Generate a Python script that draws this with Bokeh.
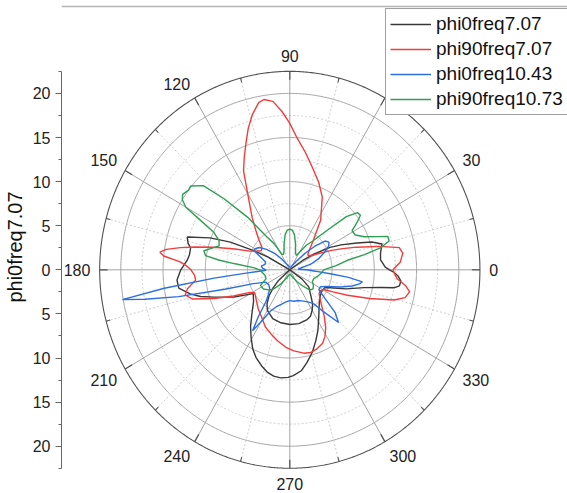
import numpy as np
from bokeh.plotting import figure
from bokeh.models import Range1d, Legend, LegendItem, FixedTicker, CustomJSTickFormatter, Span
from bokeh.embed import file_html
from bokeh.resources import INLINE
from bokeh.core.properties import value

# ---------------- data (angle in degrees, radius) ----------------
series_names = ["phi0freq7.07", "phi90freq7.07", "phi0freq10.43", "phi90freq10.73"]
series_colors = ["#383838", "#f23c3c", "#2c6fe0", "#2e9e52"]

black_theta = [0, 1.5, 6, 10, 15, 18, 21, 25, 28, 32, 35, 38, 42, 46, 50, 55, 60, 70, 80, 90,
               100, 110, 115, 120, 125, 130, 135, 139, 144, 148, 151, 153, 156, 159, 163, 166,
               168, 172, 175, 180, 185, 189, 193, 196, 199, 205, 212, 220, 228, 234, 239, 244,
               248, 253, 257, 261, 265, 269, 272, 277, 281, 286, 291, 296, 303, 310, 316, 321,
               328, 334, 337, 342, 347, 349.5, 350.6, 352, 354.5, 357, 358.7, 360]
black_r = [11.8, 11.3, 10.8, 10.9, 11.3, 10.2, 8.5, 6.7, 5.4, 3.4, 1.8, 0.0, -1.8, -2.8, -3.8,
           -4.7, -5.3, -5.9, -6.1, -6.2, -6.2, -6.0, -5.8, -5.3, -4.7, -3.9, -3.3, -3.0, -1.8,
           0.0, 3.0, 4.8, 7.7, 10.1, 12.7, 12.4, 12.0, 12.0, 12.2, 12.9, 13.4, 13.3, 12.1, 11.0,
           9.5, 7.3, 5.1, 5.6, 6.7, 7.9, 8.9, 10.0, 10.7, 11.4, 11.9, 12.2, 12.3, 12.2, 12.0,
           11.5, 10.7, 9.7, 8.6, 7.6, 6.3, 5.4, 4.9, 4.65, 4.5, 4.6, 5.2, 7.0, 9.0, 11.0, 12.5,
           13.1, 13.2, 12.8, 12.3, 11.8]

red_theta = [0, 3.8, 8, 11, 14, 18, 21, 24, 28, 32, 36, 40, 44, 50, 57, 65, 71, 77, 82, 87, 90,
             93, 96, 99, 101, 104, 107, 110, 113, 116, 121, 127, 132, 137, 142, 147, 152, 156,
             160, 164, 167, 169, 171, 172.6, 174, 176, 178, 180, 183, 186, 190, 193, 196, 200,
             204, 208, 212, 220, 230, 238, 246, 253, 260, 267, 273, 280, 285, 290, 295, 299, 303,
             308, 312, 317, 322, 326, 331, 334, 337, 341, 344.5, 347, 350, 352.6, 355.4, 358, 360]
red_r = [12.2, 13.1, 13.5, 13.2, 11.0, 8.3, 6.7, 5.4, 4.0, 3.1, 2.7, 2.8, 3.2, 4.3, 6.7, 9.1, 10.5,
         11.9, 13.4, 15.1, 16.6, 18.0, 19.2, 19.55, 19.3, 18.2, 16.8, 15.2, 13.8, 12.5, 9.5, 7.4,
         6.0, 5.0, 4.2, 4.0, 4.5, 5.2, 6.9, 9.3, 11.5, 13.2, 14.8, 15.5, 15.0, 13.0, 12.2, 11.7,
         11.3, 11.2, 12.3, 12.7, 12.0, 9.5, 7.3, 5.5, 4.9, 5.2, 5.8, 6.3, 7.1, 7.6, 8.2, 8.8, 9.2,
         9.6, 9.7, 9.5, 9.2, 8.6, 7.8, 6.6, 5.7, 4.9, 4.4, 4.3, 4.6, 5.7, 7.4, 10.0, 12.8, 14.0,
         14.4, 13.8, 12.75, 12.4, 12.2]

blue_theta = [0, 4, 8, 14, 20, 26, 30, 34, 38, 42, 46, 52, 60, 75, 90, 105, 120, 128, 134, 140,
              145, 149, 153, 158, 163, 168, 173, 177, 181, 184, 186, 188, 189.7, 191, 193, 196,
              200, 206, 214, 222, 228, 232, 235, 237.5, 240, 244, 250, 256, 262, 270, 278, 285,
              292, 300, 306, 310, 314, 318, 322, 327, 332, 337, 342, 346, 349, 351, 353, 354.6,
              357, 360]
blue_r = [2.0, 1.0, 1.2, 2.5, 3.6, 4.6, 5.3, 5.6, 5.3, 4.0, 2.6, 1.2, 0.5, 0.3, 0.3, 0.4, 0.8,
          1.6, 2.6, 3.6, 4.4, 4.7, 4.8, 3.6, 3.0, 3.0, 3.4, 3.2, 2.8, 5.0, 9.0, 15.0, 20.1, 17.5,
          13.5, 8.0, 4.6, 3.2, 3.0, 3.2, 3.8, 4.6, 6.5, 8.2, 6.8, 5.2, 4.4, 4.0, 3.7, 3.5, 3.6,
          3.6, 3.8, 4.2, 4.7, 6.2, 8.3, 7.2, 5.3, 4.1, 4.1, 4.8, 6.3, 7.6, 8.4, 8.7, 7.0, 4.8,
          3.0, 2.0]

green_theta = [0, 5, 9, 11, 13, 15.5, 18, 20, 23, 27, 31, 34, 36.5, 39, 42, 45, 48, 50, 55, 60,
               65, 70, 77, 82, 86, 90, 94, 98, 103, 108, 113, 118, 122, 126, 130, 134, 137, 141,
               143, 146, 148, 150, 152, 154.6, 158.4, 162, 165, 168, 170.8, 172.5, 174, 177, 181,
               185, 192, 200, 207, 215, 222, 228, 236, 248, 260, 275, 290, 302, 310, 316, 322,
               328, 333, 340, 348, 355, 360]
green_r = [4.0, 5.5, 6.9, 9.0, 11.0, 12.2, 12.2, 11.0, 9.6, 8.7, 8.6, 9.6, 10.4, 10.3, 9.0, 6.5,
           5.0, 4.3, 3.4, 2.3, 1.8, 2.0, 3.0, 4.0, 4.5, 4.6, 4.5, 4.0, 3.0, 2.2, 1.9, 2.0, 3.5,
           4.6, 7.8, 11.2, 14.0, 15.1, 15.0, 15.3, 15.0, 14.2, 12.0, 10.0, 9.0, 8.8, 9.5, 10.4,
           10.1, 8.5, 6.5, 4.2, 3.4, 3.3, 3.0, 3.0, 3.9, 3.8, 3.4, 3.0, 2.0, 1.0, 0.6, 0.5, 0.8,
           1.6, 2.4, 3.3, 3.5, 3.3, 3.0, 3.0, 3.4, 3.8, 4.0]

angle_ticks = [0, 30, 60, 90, 120, 150, 180, 210, 240, 270, 300, 330]
angle_labels = ["0", "30", "60", "90", "120", "150", "180", "210", "240", "270", "300", "330"]
radial_ticks = [-20, -15, -10, -5, 0, 5, 10, 15, 20]
radial_max = 22.5

# ---------------- geometry of the page ----------------
W, H = 567, 493
CX, CY = 289.3, 269.3      # pole position in pixels
KX, KY = 8.45, 8.82        # pixels per radial unit
LEFT = 61

p = figure(width=W, height=H, output_backend="svg", toolbar_location=None,
           x_range=Range1d((LEFT - CX) / KX, (W - CX) / KX),
           y_range=Range1d(-(H - CY) / KY, CY / KY),
           x_axis_location=None, y_axis_location="left",
           min_border_left=LEFT, min_border_right=0, min_border_top=0, min_border_bottom=0)
p.outline_line_color = None
p.xgrid.visible = False
p.ygrid.visible = False
p.background_fill_color = "white"
p.border_fill_color = "white"

# radial axis on the left
ax = p.yaxis[0]
ax.ticker = FixedTicker(ticks=radial_ticks,
                        minor_ticks=list(np.arange(-22.5, 22.6, 2.5)))
ax.formatter = CustomJSTickFormatter(code="return Math.abs(tick).toString()")
ax.bounds = (-radial_max, radial_max)
ax.axis_label = series_names[0]
ax.axis_label_text_font = "Liberation Sans"
ax.axis_label_text_font_size = "20px"
ax.axis_label_text_font_style = "normal"
ax.axis_label_text_color = "#111111"
ax.axis_label_standoff = 4
ax.major_label_text_font = "Liberation Sans"
ax.major_label_text_font_size = "16px"
ax.major_label_text_color = "#222222"
ax.major_label_standoff = 5
ax.axis_line_color = "#666666"
ax.major_tick_line_color = "#666666"
ax.minor_tick_line_color = "#666666"
ax.major_tick_out = 6
ax.major_tick_in = 0
ax.minor_tick_out = 3
ax.minor_tick_in = 0

# window artifact line at the top
p.add_layout(Span(location=(CY - 6) / KY, dimension="width", line_color="#b4b4b4", line_width=1.5))

# polar grid
t = np.linspace(0, 2 * np.pi, 721)
for rr in [2.5, 7.5, 12.5, 17.5]:
    p.line(rr * np.cos(t), rr * np.sin(t), line_color="#cdcdcd", line_width=1, line_dash="2 2")
for rr in [5, 10, 15, 20]:
    p.line(rr * np.cos(t), rr * np.sin(t), line_color="#a3a3a3", line_width=1)

minor_ang = np.radians(np.arange(15, 360, 30))
major_ang = np.radians(np.arange(0, 360, 30))
p.segment(np.zeros(len(minor_ang)), np.zeros(len(minor_ang)),
          radial_max * np.cos(minor_ang), radial_max * np.sin(minor_ang),
          line_color="#cdcdcd", line_width=1, line_dash="2 2")
p.segment(np.zeros(len(major_ang)), np.zeros(len(major_ang)),
          radial_max * np.cos(major_ang), radial_max * np.sin(major_ang),
          line_color="#a3a3a3", line_width=1)
p.line(radial_max * np.cos(t), radial_max * np.sin(t), line_color="#505050", line_width=1.1)
# ticks on the outer circle
p.segment((radial_max - 0.95) * np.cos(major_ang), (radial_max - 0.95) * np.sin(major_ang),
          radial_max * np.cos(major_ang), radial_max * np.sin(major_ang),
          line_color="#505050", line_width=1.2)
p.segment((radial_max - 0.5) * np.cos(minor_ang), (radial_max - 0.5) * np.sin(minor_ang),
          radial_max * np.cos(minor_ang), radial_max * np.sin(minor_ang),
          line_color="#505050", line_width=1.1)

# angular labels
R_LAB = 23.6
groups = {}
for ang, lab in zip(angle_ticks, angle_labels):
    c, s = np.cos(np.radians(ang)), np.sin(np.radians(ang))
    align = "left" if c > 0.3 else ("right" if c < -0.3 else "center")
    base = "bottom" if s > 0.3 else ("top" if s < -0.3 else "middle")
    groups.setdefault((align, base), []).append((R_LAB * c, R_LAB * s, lab))
for (align, base), items in groups.items():
    p.text([i[0] for i in items], [i[1] for i in items], text=[i[2] for i in items],
           text_align=align, text_baseline=base, text_font=value("Liberation Sans"),
           text_font_size="16px", text_color="#222222")

# data curves
renderers = []
for th, rr, col in [(black_theta, black_r, series_colors[0]),
                    (red_theta, red_r, series_colors[1]),
                    (blue_theta, blue_r, series_colors[2]),
                    (green_theta, green_r, series_colors[3])]:
    a = np.radians(np.array(th, dtype=float))
    r = np.array(rr, dtype=float)
    renderers.append(p.line(r * np.cos(a), r * np.sin(a), line_color=col, line_width=1.4))

legend = Legend(items=[LegendItem(label=n, renderers=[r]) for n, r in zip(series_names, renderers)],
                location=(385 - LEFT, H - 115))
legend.padding = 4
legend.spacing = 3
legend.glyph_width = 41
legend.glyph_height = 20
legend.label_height = 20
legend.label_standoff = 5
legend.label_text_font = "Liberation Sans"
legend.label_text_font_size = "19px"
legend.label_text_color = "#111111"
legend.border_line_color = "#444444"
legend.border_line_width = 1
legend.background_fill_color = "white"
legend.background_fill_alpha = 1.0
p.add_layout(legend)

open("out.html", "w").write(file_html(p, INLINE))
